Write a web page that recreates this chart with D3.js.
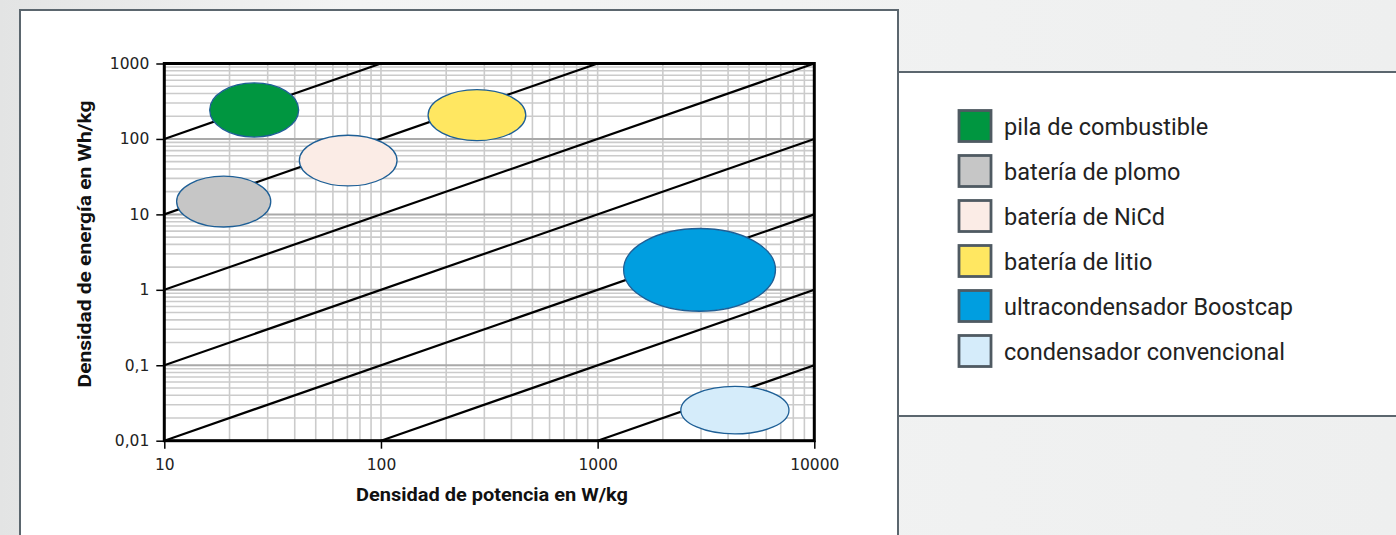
<!DOCTYPE html>
<html><head><meta charset="utf-8">
<script src="https://cdn.jsdelivr.net/npm/d3@7"></script>
<style>html,body{margin:0;padding:0;background:#eff0f0;overflow:hidden}</style>
</head><body>
<svg id="c" width="1396" height="535"></svg>
<script>
const categories = ["pila de combustible", "batería de plomo", "batería de NiCd", "batería de litio", "ultracondensador Boostcap", "condensador convencional"];
const powerMin = [16.2, 11.4, 42, 165, 1318, 2421];
const powerMax = [41.7, 31.0, 118.6, 466, 6620, 7640];
const energyMin = [106, 6.8, 23.8, 95, 0.52, 0.0123];
const energyMax = [552, 32.1, 112, 451, 6.5, 0.0525];
const colors = ["#009640", "#c6c6c6", "#fbece6", "#ffe761", "#009ee0", "#d5ecfa"];
const xTicks = [10, 100, 1000, 10000];
const xTickLabels = ["10", "100", "1000", "10000"];
const yTicks = [0.01, 0.1, 1, 10, 100, 1000];
const yTickLabels = ["0,01", "0,1", "1", "10", "100", "1000"];
const hourLines = [10, 1, 0.1, 0.01, 0.001, 0.0001, 0.00001];
const xTitle = "Densidad de potencia en W/kg";
const yTitle = "Densidad de energía en Wh/kg";

const svg = d3.select("#c");
const defs = svg.append("defs");
const bg = defs.append("linearGradient").attr("id","bg").attr("x1","0").attr("x2","1").attr("y1","0").attr("y2","0");
bg.append("stop").attr("offset","0").attr("stop-color","#e3e4e4");
bg.append("stop").attr("offset","0.25").attr("stop-color","#f3f4f4");
bg.append("stop").attr("offset","1").attr("stop-color","#eeefef");
svg.append("rect").attr("width",1396).attr("height",535).attr("fill","url(#bg)");

// panels
svg.append("rect").attr("x",898).attr("y",72).attr("width",520).attr("height",344).attr("fill","#fff").attr("stroke","#5b666e").attr("stroke-width",2);
svg.append("rect").attr("x",20).attr("y",10).attr("width",878).attr("height",540).attr("fill","#fff").attr("stroke","#5b666e").attr("stroke-width",2);

const x = d3.scaleLog().domain([10, 10000]).range([164.3, 814.3]);
const y = d3.scaleLog().domain([0.01, 1000]).range([440.7, 63.5]);

const g = svg.append("g");
const xg = x.ticks(), yg = y.ticks();
g.selectAll(".vg").data(xg).join("line")
  .attr("x1", d => x(d)).attr("x2", d => x(d)).attr("y1", y(1000)).attr("y2", y(0.01))
  .attr("stroke", "#cbcbcb").attr("stroke-width", 1.6);
g.selectAll(".hg").data(yg).join("line")
  .attr("y1", d => y(d)).attr("y2", d => y(d)).attr("x1", x(10)).attr("x2", x(10000))
  .attr("stroke", d => yTicks.includes(d) ? "#a9a9a9" : "#cbcbcb")
  .attr("stroke-width", d => yTicks.includes(d) ? 2 : 1.6);

defs.append("clipPath").attr("id","pc").append("rect")
  .attr("x", x(10)).attr("y", y(1000)).attr("width", x(10000)-x(10)).attr("height", y(0.01)-y(1000));
g.append("g").attr("clip-path","url(#pc)").selectAll("line").data(hourLines).join("line")
  .attr("x1", d => x(Math.max(10, 0.01/d))).attr("y1", d => y(Math.max(10, 0.01/d)*d))
  .attr("x2", d => x(Math.min(10000, 1000/d))).attr("y2", d => y(Math.min(10000, 1000/d)*d))
  .attr("stroke", "#000").attr("stroke-width", 2.2);

g.append("rect").attr("x", x(10)).attr("y", y(1000)).attr("width", x(10000)-x(10)).attr("height", y(0.01)-y(1000))
  .attr("fill","none").attr("stroke","#000").attr("stroke-width",3);

g.selectAll("ellipse").data(categories).join("ellipse")
  .attr("cx", (d,i) => (x(powerMin[i]) + x(powerMax[i]))/2)
  .attr("rx", (d,i) => (x(powerMax[i]) - x(powerMin[i]))/2)
  .attr("cy", (d,i) => (y(energyMin[i]) + y(energyMax[i]))/2)
  .attr("ry", (d,i) => (y(energyMin[i]) - y(energyMax[i]))/2)
  .attr("fill", (d,i) => colors[i]).attr("stroke", "#1e5f96").attr("stroke-width", 1.3);

const tickFont = "'DejaVu Sans', sans-serif";
const font = "Roboto, sans-serif";
const xa = g.append("g").attr("transform", `translate(0,${y(0.01)})`)
  .call(d3.axisBottom(x).tickValues(xTicks).tickFormat((d,i) => xTickLabels[i]).tickSize(8).tickPadding(10));
const ya = g.append("g").attr("transform", `translate(${x(10)},0)`)
  .call(d3.axisLeft(y).tickValues(yTicks).tickFormat((d,i) => yTickLabels[i]).tickSize(8).tickPadding(7));
[xa, ya].forEach(a => {
  a.select(".domain").remove();
  a.selectAll(".tick line").attr("stroke", "#000").attr("stroke-width", 1.5);
  a.selectAll(".tick text").attr("font-family", tickFont).attr("font-size", 15.5).attr("fill", "#222");
});

svg.append("text").attr("x", 492).attr("y", 501).attr("text-anchor","middle")
  .attr("font-family", font).attr("font-weight", "bold").attr("font-size", 18)
  .attr("textLength", 272).attr("lengthAdjust", "spacingAndGlyphs").attr("fill","#111")
  .text(xTitle);
svg.append("text").attr("transform", "translate(91,244) rotate(-90)").attr("text-anchor","middle")
  .attr("font-family", font).attr("font-weight", "bold").attr("font-size", 18)
  .attr("textLength", 287).attr("lengthAdjust", "spacingAndGlyphs").attr("fill","#111")
  .text(yTitle);

const lg = svg.append("g");
const rows = lg.selectAll("g").data(categories).join("g")
  .attr("transform", (d,i) => `translate(959,${110.5 + i*45})`);
rows.append("rect").attr("width", 32).attr("height", 31).attr("fill", (d,i) => colors[i])
  .attr("stroke", "#4f5a62").attr("stroke-width", 2.8);
rows.append("text").attr("x", 45).attr("y", 16).attr("dy", "0.35em")
  .attr("font-family", font).attr("font-size", 23.5).attr("fill", "#222").text(d => d);
</script>
</body></html>
